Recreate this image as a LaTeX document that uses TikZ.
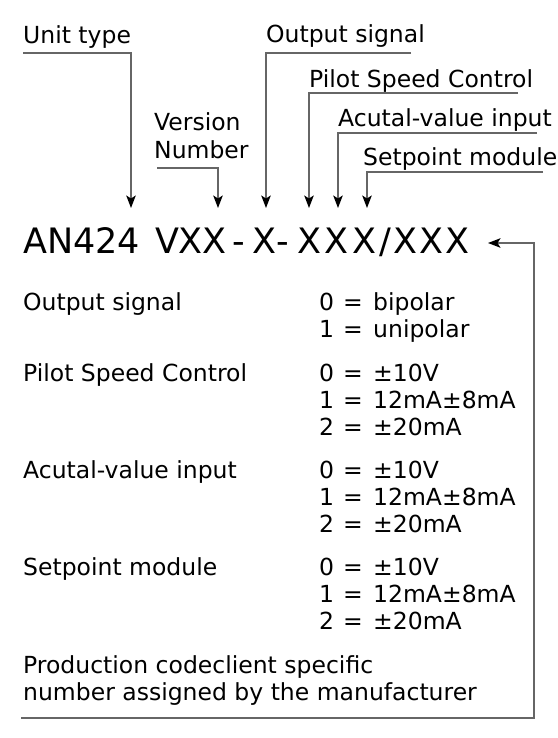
\documentclass[tikz,border=0pt]{standalone}
\usepackage{fontspec}
\setmainfont{DejaVu Sans}
\usetikzlibrary{arrows.meta}
\begin{document}
\begin{tikzpicture}[x=1pt,y=-1pt,
  lbl/.style={inner sep=0pt,anchor=base west,font=\fontsize{23.5}{27}\selectfont},
  eq/.style={inner sep=0pt,anchor=base,font=\fontsize{23.5}{27}\selectfont},
  big/.style={inner sep=0pt,anchor=base,font=\fontsize{35}{40}\selectfont},
  conn/.style={draw=black!60,line width=1.4pt,-{Stealth[length=12.5pt,width=9.5pt,inset=3pt,color=black]}}]
\useasboundingbox (0,0) rectangle (557,738);
% top labels
\node[lbl] (ut) at (23,44) {Unit type};
\node[lbl] (os) at (266,43) {Output signal};
\node[lbl] (ps) at (309,88) {Pilot Speed Control};
\node[lbl] (av) at (338,127) {Acutal-value input};
\node[lbl] (sm) at (363,166) {Setpoint module};
\node[lbl] (vr) at (154,131) {Version};
\node[lbl] (nb) at (154,159) {Number};
% code
\node[inner sep=0pt,anchor=base west,font=\fontsize{35}{40}\selectfont] (an) at (23,253) {AN424};
\node[big] (gV) at (167,253) {V};
\node[big] (gX1) at (190.5,253) {X};
\node[big] (gX2) at (214,253) {X};
\node[big] (gD1) at (238.5,253) {-};
\node[big] (gX3) at (264,253) {X};
\node[big] (gD2) at (283,253) {-};
\node[big] (gX4) at (309,253) {X};
\node[big] (gX5) at (336,253) {X};
\node[big] (gX6) at (364,253) {X};
\node[big] (gS) at (385,253) {/};
\node[big] (gX7) at (405,253) {X};
\node[big] (gX8) at (431,253) {X};
\node[big] (gX9) at (457,253) {X};
% connector coordinates
\coordinate (c1) at (23,53);   \coordinate (t1) at (131,208);
\coordinate (c2) at (157,168); \coordinate (t2) at (218,208);
\coordinate (c3) at (411,53);  \coordinate (t3) at (266,208);
\coordinate (c4) at (518,93);  \coordinate (t4) at (309,208);
\coordinate (c5) at (537,133); \coordinate (t5) at (338,208);
\coordinate (c6) at (543,172); \coordinate (t6) at (367,208);
\coordinate (b0) at (21,718);  \coordinate (bc) at (534,243); \coordinate (bt) at (488,243);
\draw[conn] (c1) -| (t1);
\draw[conn] (c2) -| (t2);
\draw[conn] (c3) -| (t3);
\draw[conn] (c4) -| (t4);
\draw[conn] (c5) -| (t5);
\draw[conn] (c6) -| (t6);
\draw[conn] (b0) -| (bc) -- (bt);
% table
\node[lbl] (r1) at (23,310) {Output signal};
\node[lbl] (r1a) at (319,310) {0}; \node[eq] (e1a) at (353,310) {=}; \node[lbl] (r1av) at (373,310) {bipolar};
\node[lbl] (r1b) at (319,337) {1}; \node[eq] (e1b) at (353,337) {=}; \node[lbl] (r1bv) at (373,337) {unipolar};
\node[lbl] (r2) at (23,381) {Pilot Speed Control};
\node[lbl] (r2a) at (319,381) {0}; \node[eq] (e2a) at (353,381) {=}; \node[lbl] (r2av) at (373,381) {±10V};
\node[lbl] (r2b) at (319,408) {1}; \node[eq] (e2b) at (353,408) {=}; \node[lbl] (r2bv) at (373,408) {12mA±8mA};
\node[lbl] (r2c) at (319,435) {2}; \node[eq] (e2c) at (353,435) {=}; \node[lbl] (r2cv) at (373,435) {±20mA};
\node[lbl] (r3) at (23,478) {Acutal-value input};
\node[lbl] (r3a) at (319,478) {0}; \node[eq] (e3a) at (353,478) {=}; \node[lbl] (r3av) at (373,478) {±10V};
\node[lbl] (r3b) at (319,505) {1}; \node[eq] (e3b) at (353,505) {=}; \node[lbl] (r3bv) at (373,505) {12mA±8mA};
\node[lbl] (r3c) at (319,532) {2}; \node[eq] (e3c) at (353,532) {=}; \node[lbl] (r3cv) at (373,532) {±20mA};
\node[lbl] (r4) at (23,575) {Setpoint module};
\node[lbl] (r4a) at (319,575) {0}; \node[eq] (e4a) at (353,575) {=}; \node[lbl] (r4av) at (373,575) {±10V};
\node[lbl] (r4b) at (319,602) {1}; \node[eq] (e4b) at (353,602) {=}; \node[lbl] (r4bv) at (373,602) {12mA±8mA};
\node[lbl] (r4c) at (319,629) {2}; \node[eq] (e4c) at (353,629) {=}; \node[lbl] (r4cv) at (373,629) {±20mA};
\node[lbl] (p1) at (23,673) {Production codeclient specific};
\node[lbl] (p2) at (23,700) {number assigned by the manufacturer};
\end{tikzpicture}
\end{document}
